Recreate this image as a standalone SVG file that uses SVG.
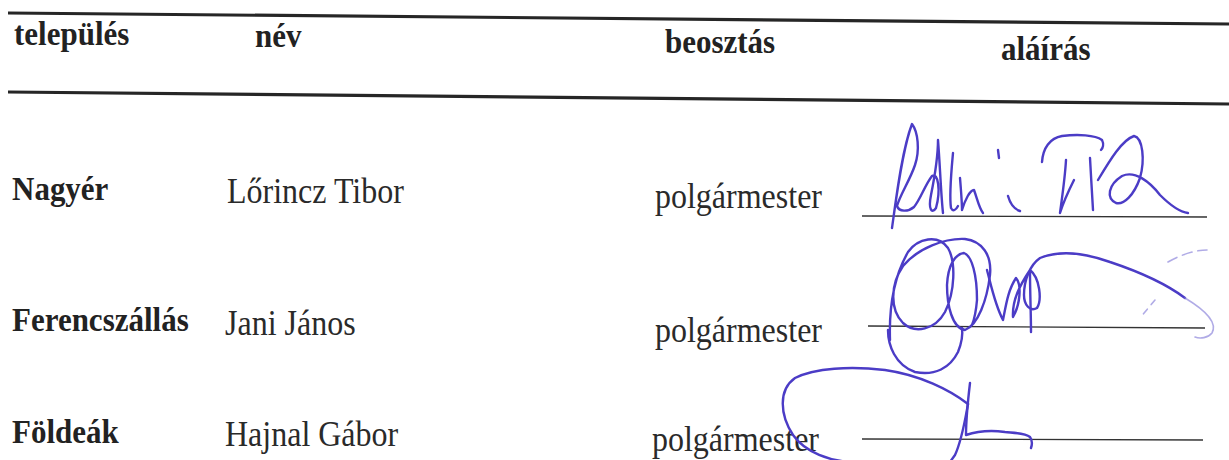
<svg xmlns="http://www.w3.org/2000/svg" width="1229" height="460" viewBox="0 0 1229 460">
<style>
.h{font-family:"Liberation Serif",serif;font-weight:bold;font-size:31px;fill:#222}
.b{font-family:"Liberation Serif",serif;font-weight:bold;font-size:31px;fill:#222}
.r{font-family:"Liberation Serif",serif;font-size:32px;fill:#2a2a2a}
.rule{stroke:#262626;stroke-width:3.2;fill:none}
.sl{stroke:#333;stroke-width:1.3;fill:none}
.sig{stroke:#4b3cc6;stroke-width:2.4;fill:none;stroke-linecap:round;stroke-linejoin:round}
.sigf{stroke:#8f88dc;stroke-width:1.6;fill:none;stroke-linecap:round;opacity:0.7}
</style>
<rect width="1229" height="460" fill="#fff"/>
<g id="rules">
<line class="rule" x1="8" y1="13" x2="1229" y2="24"/>
<line class="rule" x1="8" y1="92" x2="1229" y2="104"/>
</g>
<g id="header">
<text class="h" transform="translate(14,45) scale(1,1.1)">település</text>
<text class="h" transform="translate(255,47) scale(1,1.1)">név</text>
<text class="h" transform="translate(665,53) scale(1,1.1)">beosztás</text>
<text class="h" transform="translate(1001,60) scale(1,1.1)">aláírás</text>
</g>
<g id="row1">
<text class="b" transform="translate(12,200) scale(1,1.1)">Nagyér</text>
<text class="r" transform="translate(227,203) scale(1,1.1)">Lőrincz Tibor</text>
<text class="r" transform="translate(655,208) scale(1,1.1)">polgármester</text>
<line class="sl" x1="862" y1="216" x2="1207" y2="217"/>
</g>
<g id="row2">
<text class="b" transform="translate(12,331) scale(1,1.1)">Ferencszállás</text>
<text class="r" transform="translate(225,335) scale(1,1.1)">Jani János</text>
<text class="r" transform="translate(655,342) scale(1,1.1)">polgármester</text>
<line class="sl" x1="868" y1="326" x2="1205" y2="328"/>
</g>
<g id="row3">
<text class="b" transform="translate(12,443) scale(1,1.1)">Földeák</text>
<text class="r" transform="translate(225,446) scale(1,1.1)">Hajnal Gábor</text>
<text class="r" transform="translate(652,451) scale(1,1.1)">polgármester</text>
<line class="sl" x1="862" y1="439" x2="1203" y2="440"/>
</g>
<g id="signature1">
<path class="sig" d="M892,228 C896,200 902,150 912,124 C918,132 920,150 915,165 C910,180 900,195 897,206 C899,212 908,212 914,207 C920,200 925,185 932,176 C938,172 941,190 936,208 C932,214 928,210 931,195 C934,180 938,160 938,140 C940,165 941,195 943,213"/>
<path class="sig" d="M953,153 C951,175 949,195 951,208 C953,212 956,210 958,206"/>
<path class="sig" d="M960,178 C961,190 962,202 962,210 C965,200 970,190 974,190 C977,198 979,208 983,213"/>
<path class="sig" d="M998,150 L999,158"/>
<path class="sig" d="M1008,196 C1010,203 1014,209 1020,211"/>
<path class="sig" d="M1042,162 C1043,148 1050,138 1062,136 C1078,134 1095,135 1102,140 C1104,144 1103,148 1101,150"/>
<path class="sig" d="M1066,160 C1065,178 1062,198 1060,213 C1064,200 1070,188 1074,180"/>
<path class="sig" d="M1090,158 C1091,175 1092,195 1093,210"/>
<path class="sig" d="M1098,180 C1110,160 1122,140 1134,136 C1143,138 1145,160 1140,178 C1134,195 1124,205 1116,203 C1106,198 1108,185 1122,176 C1135,170 1150,182 1160,195 C1170,205 1180,212 1188,213"/>
</g>
<g id="signature2">
<path class="sig" d="M890,340 C889,310 892,280 908,252 C918,238 938,234 948,248 C956,262 955,292 945,312 C935,330 915,334 903,323 C890,310 890,285 903,266 C918,248 945,238 965,239 C982,241 992,255 990,275 C987,300 978,325 965,330 C952,328 947,305 947,285 C948,265 955,254 964,253 C972,256 977,275 977,300 C976,312 974,320 972,325"/>
<path class="sig" d="M888,330 C888,345 895,365 915,372 C935,376 950,368 958,352 C962,342 963,335 962,328"/>
<path class="sig" d="M987,270 C991,285 995,305 1003,320 C1006,305 1008,290 1016,278 C1022,285 1020,305 1013,317 C1012,300 1020,285 1030,270 C1040,278 1042,300 1037,308 C1030,312 1024,305 1024,295 C1024,280 1030,265 1040,258 C1060,250 1085,253 1110,262 C1140,272 1165,283 1185,298"/>
<path class="sig" d="M1030,272 C1030,292 1031,315 1031,332"/>
<path class="sigf" d="M1185,298 C1205,310 1218,322 1212,333 C1208,338 1200,339 1195,337"/>
<path class="sigf" d="M1168,262 C1180,255 1195,250 1207,250" stroke-dasharray="10 6"/>
<path class="sigf" d="M1155,300 L1140,318" stroke-dasharray="6 6"/>
</g>
<g id="signature3">
<path class="sig" d="M968,404 C950,390 920,375 885,370 C850,366 815,368 795,378 C778,390 780,415 793,435 C805,452 830,462 855,462"/>
<path class="sig" d="M968,404 C965,420 962,440 955,455 L950,462"/>
<path class="sig" d="M970,383 C968,400 966,420 966,435 C975,432 990,430 1005,432 C1015,433 1025,433 1030,437 C1033,441 1032,445 1031,448"/>
</g>
</svg>
